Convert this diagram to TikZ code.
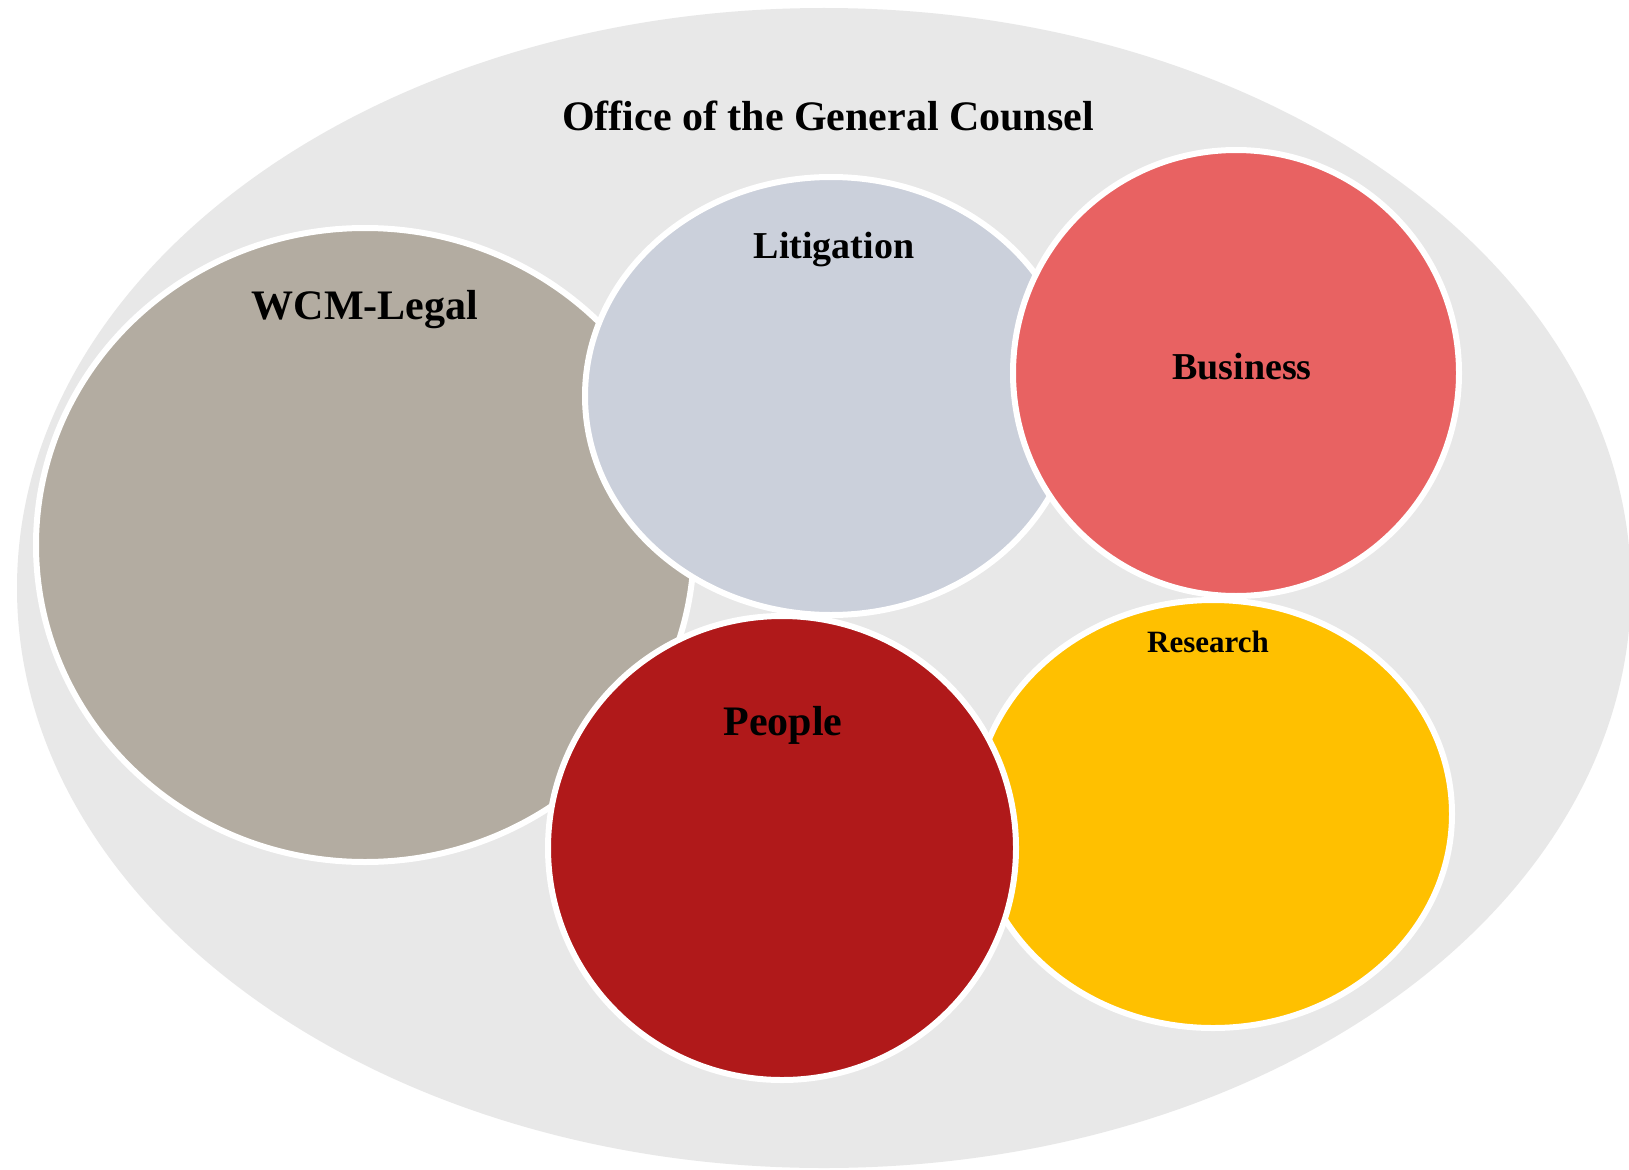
\documentclass[tikz,border=0pt]{standalone}
\usepackage{fontspec}
\setmainfont{Liberation Serif}
\usetikzlibrary{shapes.geometric}
\definecolor{bggray}{HTML}{E8E8E8}
\definecolor{wcmtan}{HTML}{B3ACA1}
\definecolor{litblue}{HTML}{CBD0DB}
\definecolor{busred}{HTML}{E86262}
\definecolor{resyellow}{HTML}{FFC000}
\definecolor{peopred}{HTML}{B0191A}
\tikzset{
  blob/.style={ellipse, draw=white, line width=6pt, inner sep=0pt},
  lbl/.style={font=\bfseries\fontsize{#1}{#1}\selectfont, inner sep=0pt, text=black},
}
\begin{document}
\begin{tikzpicture}[x=1pt,y=-1pt]
\useasboundingbox (0,0) rectangle (1629,1169);
\clip (0,0) rectangle (1629,1169);
\fill[white] (0,0) rectangle (1629,1169);
\node[ellipse, fill=bggray, minimum width=1614pt, minimum height=1160pt, inner sep=0pt] (ogc) at (824,588) {};
\node[blob, fill=wcmtan, minimum width=658pt, minimum height=634pt] (wcm) at (365,545) {};
\node[blob, fill=litblue, minimum width=492pt, minimum height=438pt] (lit) at (831,396) {};
\node[blob, fill=busred, minimum width=446pt, minimum height=446pt] (bus) at (1236,373) {};
\node[blob, fill=resyellow, minimum width=478pt, minimum height=428pt] (res) at (1213,814) {};
\node[blob, fill=peopred, minimum width=468pt, minimum height=464pt] (peo) at (782,848) {};
\node[lbl=42] (ogct) at (828,116) {Office of the General Counsel};
\node[lbl=42] (wcmt) at (365,310) {WCM-Legal};
\node[lbl=38] (litt) at (834,250) {Litigation};
\node[lbl=38] (bust) at (1242,367) {Business};
\node[lbl=31] (rest) at (1208,642) {Research};
\node[lbl=42] (peot) at (783,725) {People};
\end{tikzpicture}
\end{document}
